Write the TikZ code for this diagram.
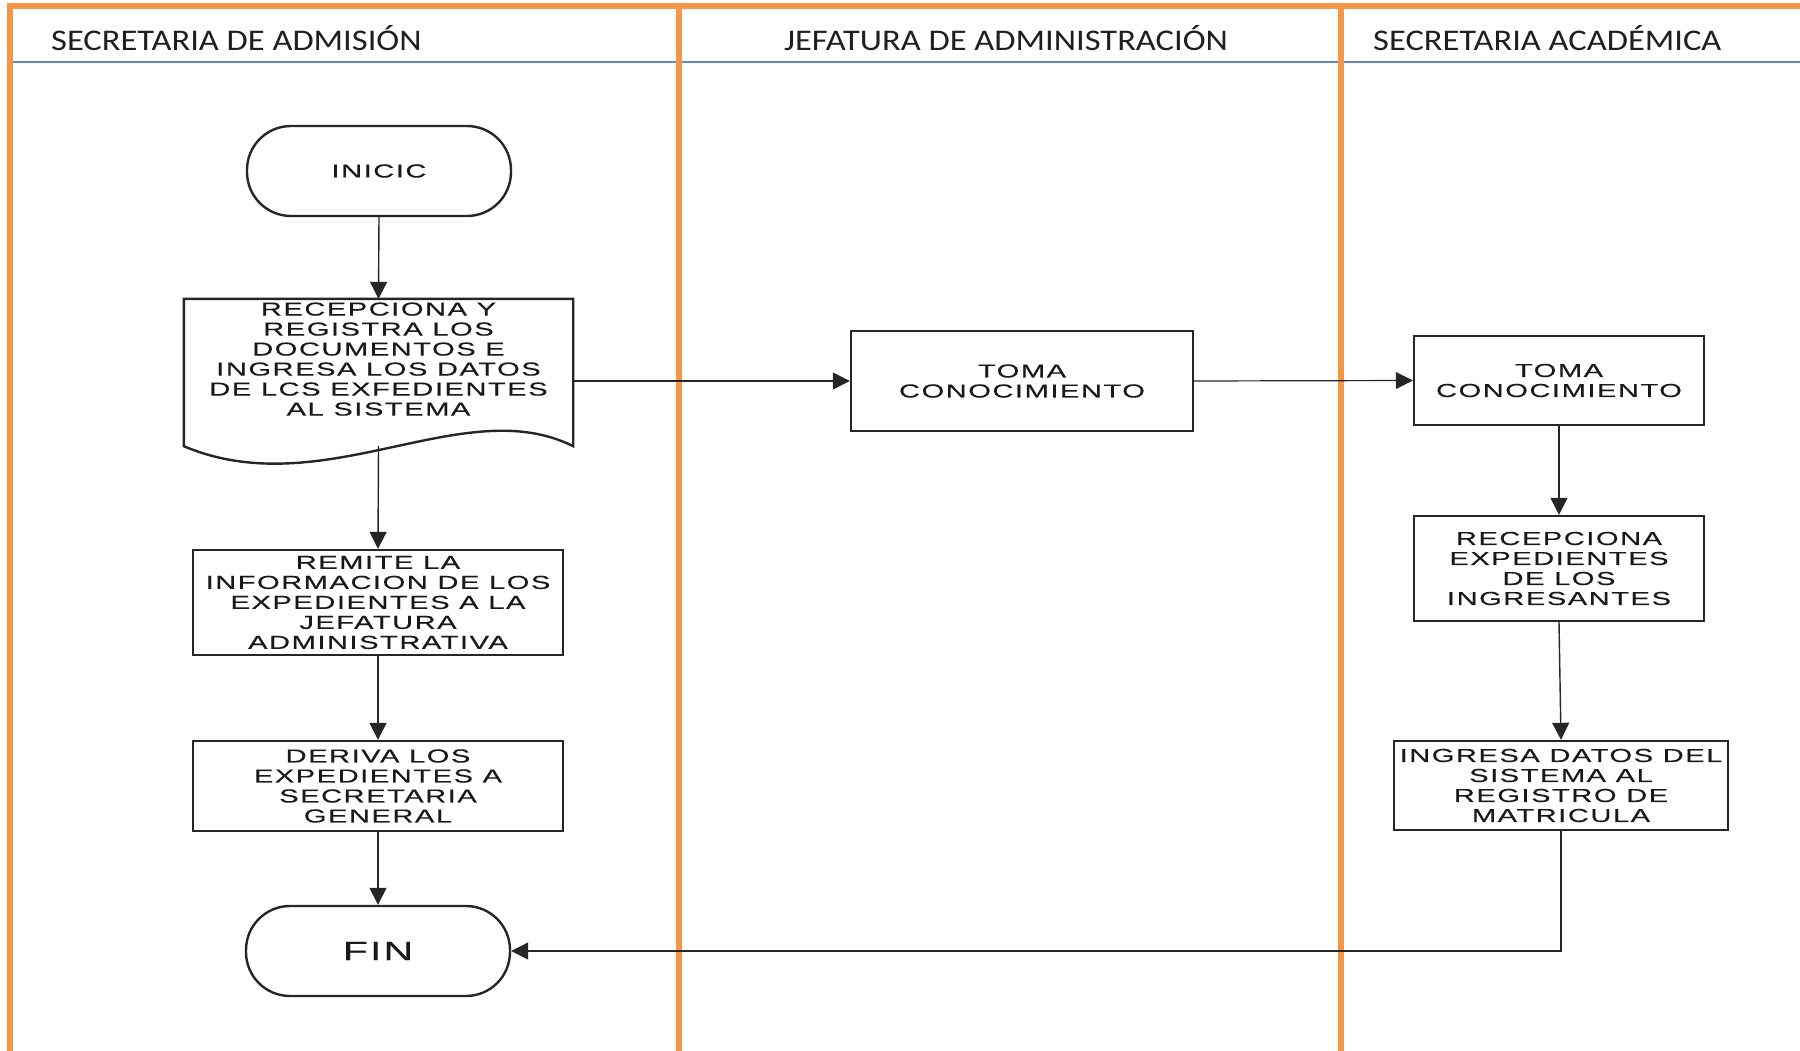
\documentclass[tikz,border=0pt]{standalone}
\usepackage{fontspec}
\usepackage{tikz}
\usetikzlibrary{shapes,arrows.meta,calc}
\newfontfamily\cajafont[FakeStretch=1.55,LetterSpace=8,FakeBold=0.3]{Liberation Sans}
\newfontfamily\carrilfont[FakeStretch=1.15]{Carlito}
\definecolor{naranja}{RGB}{245,150,70}
\definecolor{azulcab}{RGB}{95,135,195}

\begin{document}
\begin{tikzpicture}[x=1pt,y=-1pt]
\tikzset{every node/.style={font=\cajafont\fontsize{18.8}{20}\selectfont, text=black!90}}
\tikzset{proceso/.style={draw=black!85, line width=2.4pt, align=center, inner sep=0pt}}
\tikzset{terminal/.style={proceso, rounded corners=44pt, minimum width=264pt, minimum height=90pt}}
\tikzset{flecha/.style={draw=black!85, line width=1.4pt, -{Triangle[length=17pt,width=17pt]}}}
\tikzset{carril/.style={draw=naranja, line width=5.5pt}}
\tikzset{titulo/.style={font=\carrilfont\fontsize{30}{34}\selectfont, text=black!88, inner sep=0pt}}
\useasboundingbox (0,0) rectangle (1800,1051);
% carriles
\draw[draw=azulcab, line width=2.5pt] (12,62) -- (1800,62);
\draw[carril] (10,1060) -- (10,6) -- (1810,6);
\draw[carril] (679,6) -- (679,1060);
\draw[carril] (1341,6) -- (1341,1060);
\node[titulo, anchor=base west] (cabA) at (51,51) {SECRETARIA DE ADMISIÓN};
\node[titulo, anchor=base] (cabB) at (1006,51) {JEFATURA DE ADMINISTRACIÓN};
\node[titulo, anchor=base west] (cabC) at (1373,51) {SECRETARIA ACADÉMICA};
% secretaria de admision
\node[terminal] (inicio) at (379,171) {INICIC};
\node[proceso, draw=none, minimum width=387pt, minimum height=145pt, text depth=27pt] (recep) at (378.5,372.5)
  {RECEPCIONA Y\\REGISTRA LOS\\DOCUMENTOS E\\INGRESA LOS DATOS\\DE LCS EXFEDIENTES\\AL SISTEMA};
\draw[draw=black!85, line width=2.4pt] (recep.north west) -- (recep.south west)
  .. controls ($(recep.south west)+(140,59)$) and ($(recep.south east)+(-110,-55)$) .. (recep.south east)
  -- (recep.north east) -- cycle;
\node[proceso, minimum width=370pt, minimum height=105pt] (remite) at (378,602.5)
  {REMITE LA\\INFORMACION DE LOS\\EXPEDIENTES A LA\\JEFATURA\\ADMINISTRATIVA};
\node[proceso, minimum width=370pt, minimum height=90pt] (deriva) at (378,786)
  {DERIVA LOS\\EXPEDIENTES A\\SECRETARIA\\GENERAL};
\node[terminal, font=\cajafont\fontsize{26.5}{28}\selectfont] (fin) at (378,951) {FIN};
% jefatura de administracion
\node[proceso, minimum width=342pt, minimum height=100pt] (tomaA) at (1022,381) {TOMA\\CONOCIMIENTO};
% secretaria academica
\node[proceso, minimum width=290pt, minimum height=89pt] (tomaB) at (1559,380.5) {TOMA\\CONOCIMIENTO};
\node[proceso, minimum width=290pt, minimum height=105pt] (recepB) at (1559,568.5)
  {RECEPCIONA\\EXPEDIENTES\\DE LOS\\INGRESANTES};
\node[proceso, minimum width=334pt, minimum height=89pt] (ingresa) at (1561,785.5)
  {INGRESA DATOS DEL\\SISTEMA AL\\REGISTRO DE\\MATRICULA};
% conectores
\draw[flecha] (inicio.south) -- (recep.north);
\draw[flecha] (recep.south) -- (remite.north);
\draw[flecha] (remite.south) -- (deriva.north);
\draw[flecha] (deriva.south) -- (fin.north);
\draw[flecha, line width=1.2pt] (recep.east |- tomaA.west) -- (tomaA.west);
\draw[flecha, line width=1.2pt] (tomaA.east) -- (tomaB.west);
\draw[flecha] (tomaB.south) -- (recepB.north);
\draw[flecha] (recepB.south) -- (ingresa.north);
\draw[flecha, line width=1.2pt] (ingresa.south) |- (fin.east);
\end{tikzpicture}
\end{document}
